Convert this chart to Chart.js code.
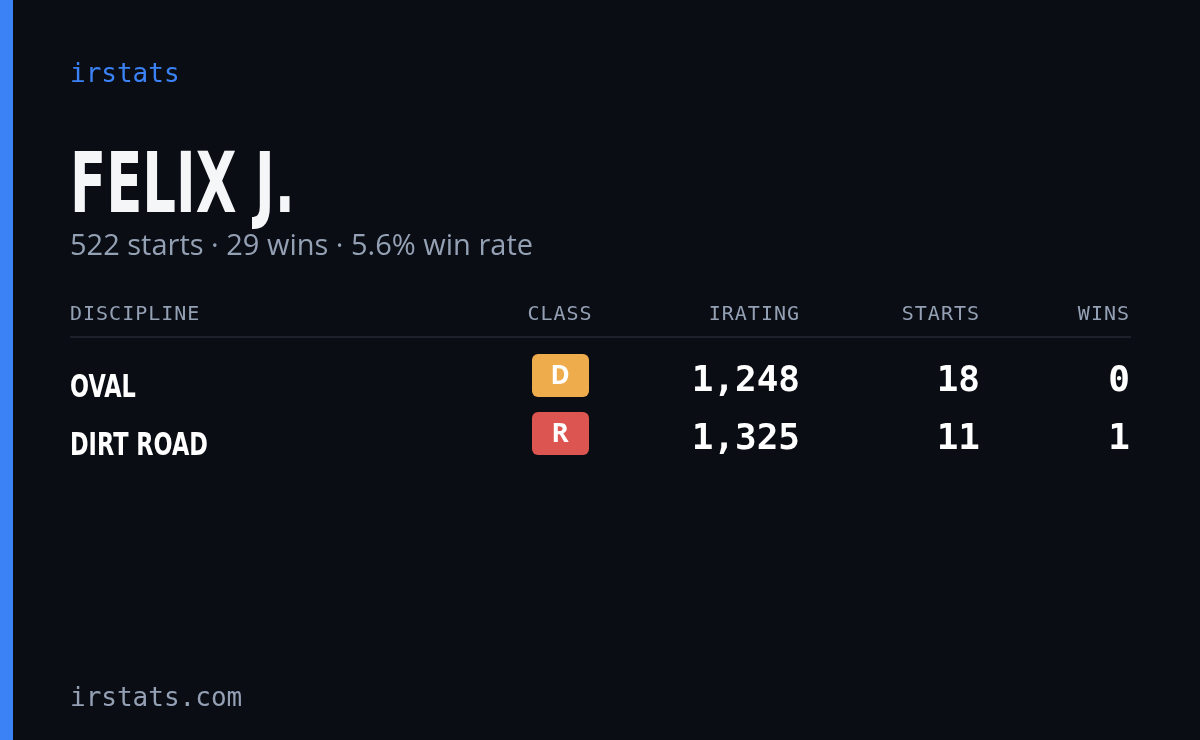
<!DOCTYPE html>
<html>
<head>
<meta charset="utf-8">
<script src="https://cdn.jsdelivr.net/npm/chart.js@4"></script>
<style>
  html, body { margin: 0; padding: 0; background: #0a0d14; }
  #wrap { width: 1200px; height: 740px; position: relative; }
</style>
</head>
<body>
<div id="wrap"><canvas id="card"></canvas></div>
<script>
const brand = 'irstats';
const driverName = 'FELIX J.';
const summary = '522 starts · 29 wins · 5.6% win rate';
const columns = ['DISCIPLINE', 'CLASS', 'IRATING', 'STARTS', 'WINS'];
const disciplines = ['OVAL', 'DIRT ROAD'];
const licenseClass = ['D', 'R'];
const iratings = [1248, 1325];
const starts = [18, 11];
const wins = [0, 1];
const footer = 'irstats.com';

const classColors = { D: '#efac4d', R: '#dc5550' };
const MONO = '"DejaVu Sans Mono", monospace';
const COND = '"DejaVu Sans", sans-serif';

function roundRect(ctx, x, y, w, h, r) {
    ctx.beginPath();
    ctx.moveTo(x + r, y);
    ctx.arcTo(x + w, y, x + w, y + h, r);
    ctx.arcTo(x + w, y + h, x, y + h, r);
    ctx.arcTo(x, y + h, x, y, r);
    ctx.arcTo(x, y, x + w, y, r);
    ctx.closePath();
}

// texto "condensado" por escala horizontal
function condensed(ctx, text, x, y, sx) {
    ctx.save();
    ctx.translate(x, y);
    ctx.scale(sx, 1);
    ctx.fillText(text, 0, 0);
    ctx.restore();
}

const cardPlugin = {
    id: 'card',
    beforeDraw(chart) {
        const ctx = chart.ctx;
        ctx.save();
        ctx.fillStyle = '#0a0d14';
        ctx.fillRect(0, 0, 1200, 740);
        ctx.fillStyle = '#3b82f6';
        ctx.fillRect(0, 0, 13, 740);
        ctx.restore();
    },
    afterDraw(chart) {
        const ctx = chart.ctx;
        const y = chart.scales.y;
        ctx.save();
        ctx.textBaseline = 'alphabetic';

        ctx.fillStyle = '#3b82f6';
        ctx.font = '26px ' + MONO;
        ctx.fillText(brand, 70, 82);

        ctx.fillStyle = '#f5f6f8';
        ctx.font = 'bold 84px ' + COND;
        condensed(ctx, driverName, 70, 212, 0.63);

        ctx.fillStyle = '#94a0b4';
        ctx.font = '29px "Open Sans", "Noto Sans", sans-serif';
        ctx.fillText(summary, 70, 255);

        // cabeçalho
        const colX = [70, 560, 800, 980, 1130];
        const colAlign = ['left', 'center', 'right', 'right', 'right'];
        ctx.font = '20px ' + MONO;
        ctx.letterSpacing = '1px';
        columns.forEach((c, i) => {
            ctx.textAlign = colAlign[i];
            ctx.fillText(c, colX[i], 320);
        });
        ctx.letterSpacing = '0px';
        ctx.fillStyle = '#1c212c';
        ctx.fillRect(70, 336, 1061, 2);

        disciplines.forEach((d, i) => {
            const cy = y.getPixelForValue(i);
            ctx.textAlign = 'left';
            ctx.fillStyle = '#ffffff';
            ctx.font = 'bold 32px ' + COND;
            condensed(ctx, d, 70, cy + 17, 0.7);

            ctx.fillStyle = classColors[licenseClass[i]];
            roundRect(ctx, 532, cy - 26, 57, 43, 6);
            ctx.fill();
            ctx.fillStyle = '#ffffff';
            ctx.textAlign = 'center';
            ctx.font = 'bold 26px "Open Sans", sans-serif';
            ctx.fillText(licenseClass[i], 560, cy + 4);

            ctx.textAlign = 'right';
            ctx.font = 'bold 36px ' + MONO;
            ctx.fillText(iratings[i].toLocaleString('en-US'), 800, cy + 11);
            ctx.fillText(String(starts[i]), 980, cy + 11);
            ctx.fillText(String(wins[i]), 1130, cy + 11);
        });

        ctx.textAlign = 'left';
        ctx.fillStyle = '#94a0b4';
        ctx.font = '26px ' + MONO;
        ctx.fillText(footer, 70, 706);
        ctx.restore();
    }
};

new Chart(document.getElementById('card'), {
    type: 'bar',
    data: {
        labels: disciplines,
        datasets: [{ data: iratings, backgroundColor: 'rgba(0,0,0,0)' }]
    },
    options: {
        indexAxis: 'y',
        responsive: true,
        maintainAspectRatio: false,
        animation: false,
        layout: { padding: { top: 351, bottom: 273, left: 70, right: 70 } },
        scales: {
            y: { display: false, offset: true },
            x: { display: false }
        },
        plugins: { legend: { display: false }, tooltip: { enabled: false } }
    },
    plugins: [cardPlugin]
});
</script>
</body>
</html>
